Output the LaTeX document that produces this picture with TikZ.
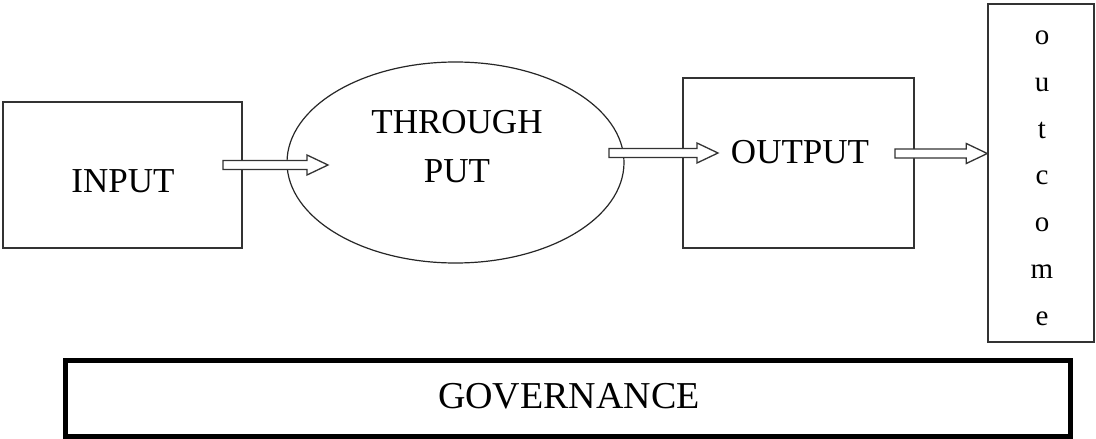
\documentclass[tikz,border=0pt]{standalone}
\usepackage{fontspec}
\setmainfont{Liberation Serif}
\usetikzlibrary{shapes.geometric,calc}
\tikzset{
  box/.style={draw=black!80, line width=1.4pt, rectangle, inner sep=0pt},
  oval/.style={draw=black!85, line width=1.2pt, ellipse, inner sep=0pt},
  lbl/.style={font=\fontsize{35}{49}\selectfont, align=center, inner sep=0pt},
  hollow/.style={draw=black!80, line width=1.3pt, fill=white, line join=miter,
    to path={let \p1=(\tikztostart), \p2=(\tikztotarget) in
      (\x1,\y1+4.5pt) -- (\x2-21pt,\y1+4.5pt) -- (\x2-21pt,\y1+10pt) -- (\x2,\y1)
      -- (\x2-21pt,\y1-10pt) -- (\x2-21pt,\y1-4.5pt) -- (\x1,\y1-4.5pt) -- cycle}}
}
\begin{document}
\begin{tikzpicture}[x=1pt,y=-1pt]
\useasboundingbox[fill=white] (0,0) rectangle (1096,439);
% shapes
\node[box, minimum width=239pt, minimum height=146pt] (input) at (122.5,175) {};
\node[oval, minimum width=337pt, minimum height=201pt] (tp) at (455.5,162.5) {};
\node[box, minimum width=231pt, minimum height=170pt] (output) at (798.5,163) {};
\node[box, minimum width=106pt, minimum height=338pt] (outcome) at (1041,173) {};
\node[draw=black, line width=5pt, rectangle, inner sep=0pt, minimum width=1005pt, minimum height=76pt] (gov) at (568,398.5) {};
% texts
\node[lbl, anchor=base] (inputT) at (123,192) {INPUT};
\node[lbl, anchor=base] (tpT) at (457,182) {THROUGH\\PUT};
\node[lbl, anchor=base] (outputT) at (800,163) {OUTPUT};
\node[font=\fontsize{29}{46.7}\selectfont, align=center, inner sep=0pt, anchor=base] (outcomeT) at (1042,325) {o\\u\\t\\c\\o\\m\\e};
\node[font=\fontsize{38}{40}\selectfont, inner sep=0pt, anchor=base] (govT) at (569,408) {GOVERNANCE};
% arrows
\coordinate (a1s) at (223,165);
\coordinate (a1e) at (328,165);
\coordinate (a2s) at (609,153);
\coordinate (a2e) at (718,153);
\coordinate (a3s) at (895,153.5);
\coordinate (a3e) at (outcome.west |- a3s);
\draw[hollow] (a1s) to (a1e);
\draw[hollow] (a2s) to (a2e);
\draw[hollow] (a3s) to (a3e);
\end{tikzpicture}
\end{document}
